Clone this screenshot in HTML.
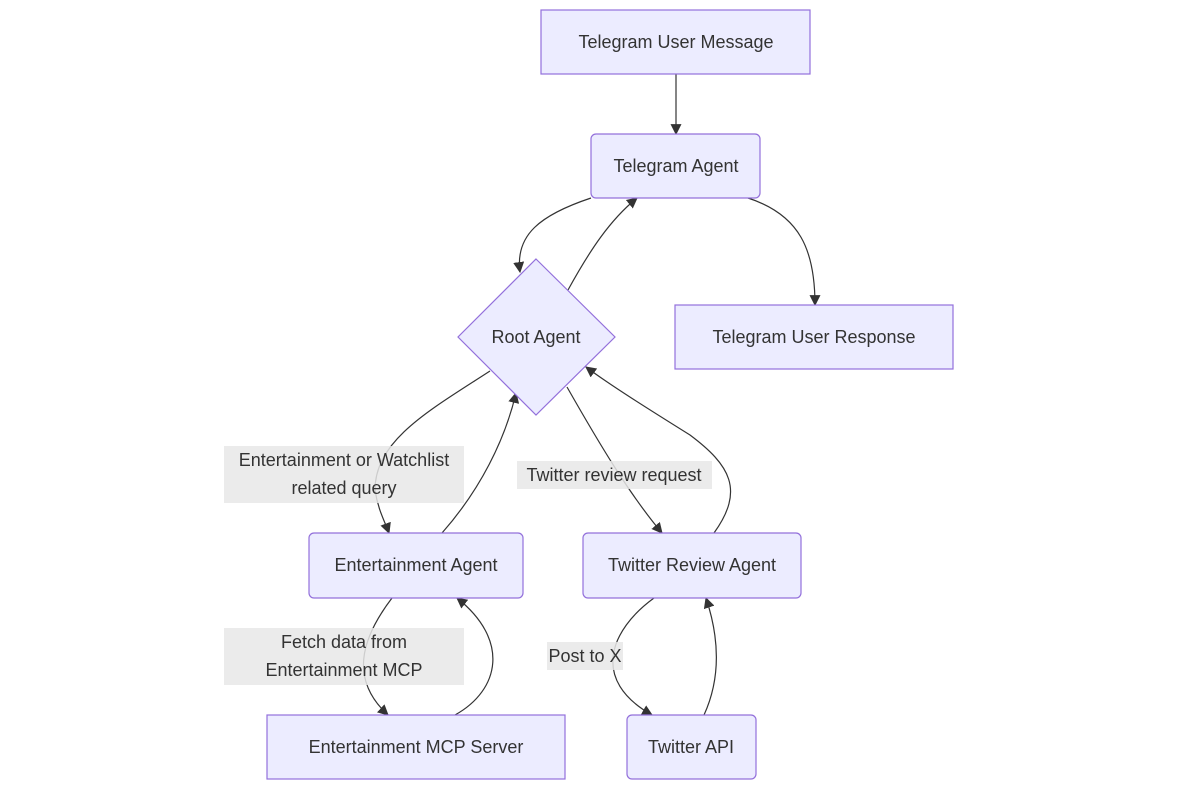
<!DOCTYPE html>
<html><head><meta charset="utf-8"><style>
html,body{margin:0;padding:0;background:#fff;width:1178px;height:790px;overflow:hidden}
text{font-family:"Liberation Sans","DejaVu Sans",sans-serif;font-size:18px;fill:#333}
</style></head><body>
<svg width="1178" height="790" viewBox="0 0 1178 790" xmlns="http://www.w3.org/2000/svg">
<defs><marker id="a" viewBox="0 0 10 10" refX="9" refY="5" markerWidth="11" markerHeight="11" markerUnits="userSpaceOnUse" orient="auto"><path d="M0,0L10,5L0,10z" fill="#333"/></marker></defs>
<g fill="none" stroke="#333" stroke-width="1.2" marker-end="url(#a)">
<path d="M676,74 L676,134"/>
<path d="M591,198 C540,215 515,235 520,272"/>
<path d="M568,290 C590,250 610,220 637,198"/>
<path d="M748,198 C800,215 815,250 815,305"/>
<path d="M490,371 C430,410 375,440 375,490 C378,510 385,522 389,533"/>
<path d="M442,533 C480,490 505,440 516,393"/>
<path d="M567,387 C600,445 630,495 662,533"/>
<path d="M714,533 C745,490 730,465 690,435 C650,410 610,385 586,367"/>
<path d="M392,598 C360,640 350,680 388,715"/>
<path d="M455,715 C500,690 510,640 457,598"/>
<path d="M654,598 C610,630 590,680 652,715"/>
<path d="M704,715 C720,680 720,640 706,598"/>
</g>
<g fill="#ECECFF" stroke="#9370DB" stroke-width="1.2">
<rect x="541" y="10" width="269" height="64"/>
<rect x="591" y="134" width="169" height="64" rx="5"/>
<path d="M536,259 L615,337 L536,415 L458,337 Z"/>
<rect x="675" y="305" width="278" height="64"/>
<rect x="309" y="533" width="214" height="65" rx="5"/>
<rect x="583" y="533" width="218" height="65" rx="5"/>
<rect x="267" y="715" width="298" height="64"/>
<rect x="627" y="715" width="129" height="64" rx="5"/>
</g>
<g fill="rgba(232,232,232,0.85)">
<rect x="224" y="446" width="240" height="57"/>
<rect x="517" y="461" width="195" height="28"/>
<rect x="224" y="628" width="240" height="57"/>
<rect x="547" y="642" width="76" height="28"/>
</g>
<g text-anchor="middle" dominant-baseline="central">
<text x="676" y="42">Telegram User Message</text>
<text x="676" y="166">Telegram Agent</text>
<text x="536" y="337">Root Agent</text>
<text x="814" y="337">Telegram User Response</text>
<text x="416" y="565">Entertainment Agent</text>
<text x="692" y="565">Twitter Review Agent</text>
<text x="416" y="747">Entertainment MCP Server</text>
<text x="691" y="747">Twitter API</text>
<text x="344" y="460">Entertainment or Watchlist</text>
<text x="344" y="488">related query</text>
<text x="614" y="475">Twitter review request</text>
<text x="344" y="642">Fetch data from</text>
<text x="344" y="670">Entertainment MCP</text>
<text x="585" y="656">Post to X</text>
</g>
</svg>
</body></html>
